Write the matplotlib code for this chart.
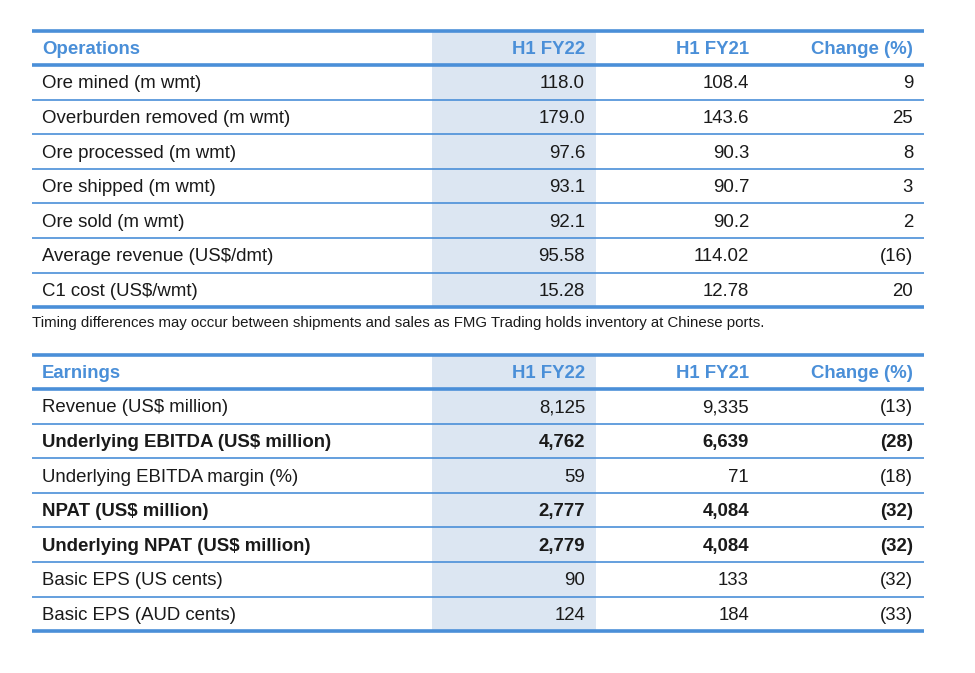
import matplotlib.pyplot as plt

plt.rcParams['font.family'] = ['Liberation Sans', 'DejaVu Sans']

# table data
ops_labels = ["Ore mined (m wmt)", "Overburden removed (m wmt)", "Ore processed (m wmt)",
              "Ore shipped (m wmt)", "Ore sold (m wmt)", "Average revenue (US$/dmt)",
              "C1 cost (US$/wmt)"]
ops_fy22 = ["118.0", "179.0", "97.6", "93.1", "92.1", "95.58", "15.28"]
ops_fy21 = ["108.4", "143.6", "90.3", "90.7", "90.2", "114.02", "12.78"]
ops_change = ["9", "25", "8", "3", "2", "(16)", "20"]
ops_bold = [False] * 7

earn_labels = ["Revenue (US$ million)", "Underlying EBITDA (US$ million)",
               "Underlying EBITDA margin (%)", "NPAT (US$ million)",
               "Underlying NPAT (US$ million)", "Basic EPS (US cents)", "Basic EPS (AUD cents)"]
earn_fy22 = ["8,125", "4,762", "59", "2,777", "2,779", "90", "124"]
earn_fy21 = ["9,335", "6,639", "71", "4,084", "4,084", "133", "184"]
earn_change = ["(13)", "(28)", "(18)", "(32)", "(32)", "(32)", "(33)"]
earn_bold = [False, True, False, True, True, False, False]

headers = ["H1 FY22", "H1 FY21", "Change (%)"]
footnote = "Timing differences may occur between shipments and sales as FMG Trading holds inventory at Chinese ports."

BLUE = "#4a8fd8"
SHADE = "#dce6f2"
TXT = "#1a1a1a"
LEFT, RIGHT = 32, 924
SH_L, SH_R = 432, 596
COL_X = [585, 749, 913]
FS = 13.4

fig = plt.figure(figsize=(9.75, 6.73), dpi=100)
ax = fig.add_axes([0, 0, 1, 1])
ax.set_xlim(0, 975)
ax.set_ylim(673, 0)
ax.axis("off")


def draw_table(top, title, labels, c1, c2, c3, bold, row_h=34.6, head_h=34):
    n = len(labels)
    head_line = top + head_h
    bottom = head_line + n * row_h
    ax.add_patch(plt.Rectangle((SH_L, top), SH_R - SH_L, bottom - top, color=SHADE, lw=0, zorder=0))
    ax.plot([LEFT, RIGHT], [top, top], color=BLUE, lw=2.6, solid_capstyle="butt")
    ax.plot([LEFT, RIGHT], [head_line, head_line], color=BLUE, lw=2.6, solid_capstyle="butt")
    ax.plot([LEFT, RIGHT], [bottom, bottom], color=BLUE, lw=2.6, solid_capstyle="butt")
    hy = top + head_h / 2 + 1.5
    ax.text(42, hy, title, color=BLUE, fontsize=FS, fontweight="bold", va="center", ha="left")
    for x, h in zip(COL_X, headers):
        ax.text(x, hy, h, color=BLUE, fontsize=FS, fontweight="bold", va="center", ha="right")
    for i in range(n):
        y = head_line + (i + 0.5) * row_h + 1.5
        w = "bold" if bold[i] else "normal"
        ax.text(42, y, labels[i], color=TXT, fontsize=FS, fontweight=w, va="center", ha="left")
        for x, v in zip(COL_X, [c1[i], c2[i], c3[i]]):
            ax.text(x, y, v, color=TXT, fontsize=FS, fontweight=w, va="center", ha="right")
        if i < n - 1:
            ly = head_line + (i + 1) * row_h
            ax.plot([LEFT, RIGHT], [ly, ly], color=BLUE, lw=1.2, solid_capstyle="butt")
    return bottom


b1 = draw_table(31, "Operations", ops_labels, ops_fy22, ops_fy21, ops_change, ops_bold)
ax.text(32, b1 + 16, footnote, color=TXT, fontsize=10.8, va="center", ha="left")
draw_table(355, "Earnings", earn_labels, earn_fy22, earn_fy21, earn_change, earn_bold)

fig.savefig("out.png", dpi=100)
